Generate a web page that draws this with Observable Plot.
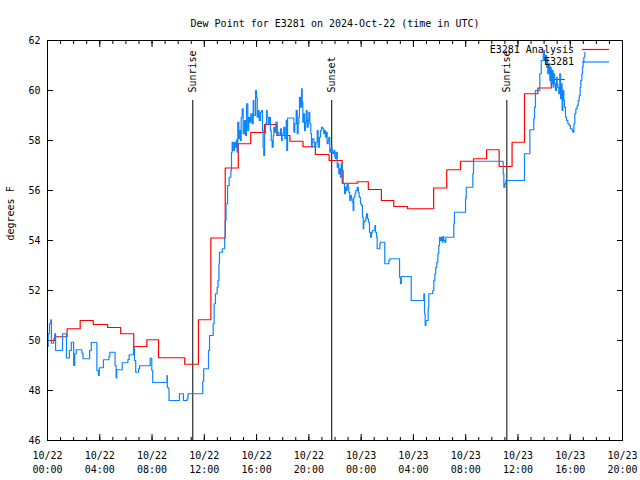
<!DOCTYPE html>
<html><head><meta charset="utf-8">
<script src="https://cdn.jsdelivr.net/npm/d3@7"></script>
<script src="https://cdn.jsdelivr.net/npm/@observablehq/plot@0.6"></script>
<style>body{margin:0;background:#fff;}</style>
</head><body><div id="chart"></div>
<script>
const startTime = "2024-10-22T00:00:00Z";
const endTime = "2024-10-23T20:00:00Z";
const titleText = "Dew Point for E3281 on 2024-Oct-22 (time in UTC)";
const yLabel = "degrees F";
const yDomain = [46, 62];
const yTicks = [46, 48, 50, 52, 54, 56, 58, 60, 62];
const seriesNames = ["E3281 Analysis", "E3281"];
const seriesColors = ["#ff0000", "#0a84ff"];

// Analysis (hours after start, value held until next hour entry)
const analysisHours = [0, 0.55, 1.5, 2.5, 3.5, 4.6, 5.6, 6.6, 7.6, 8.5, 9.5, 10.5, 11.55, 12.5, 13.6, 14.6, 15.55, 16.6, 17.55, 18.55, 19.55, 20.5, 21.55, 22.55, 23.7, 24.55, 25.55, 26.5, 27.55, 28.55, 29.55, 30.55, 31.6, 32.6, 33.6, 34.56, 35.55, 36.5, 37.52, 38.55, 39.55];
const analysisValues = [50.0, 50.15, 50.47, 50.8, 50.64, 50.52, 50.27, 49.76, 50.03, 49.31, 49.31, 49.05, 50.83, 54.1, 56.9, 57.87, 58.32, 58.64, 58.2, 57.97, 57.75, 57.44, 57.2, 56.29, 56.35, 56.04, 55.6, 55.36, 55.27, 55.27, 56.1, 56.83, 57.17, 57.27, 57.63, 56.96, 57.93, 59.87, 60.1, 60.44, 60.44];

// Observations
const obsHours = [0.00,0.05,0.15,0.25,0.30,0.48,0.55,0.62,1.15,1.45,1.68,1.82,2.0,2.08,2.2,2.63,2.72,3.22,3.35,3.78,3.9,3.96,4.28,4.7,4.77,5.17,5.25,5.3,5.72,6.15,6.25,6.58,6.66,6.75,6.97,7.05,7.86,7.98,8.05,9.14,9.17,9.22,9.3,10.1,10.4,10.68,10.75,11.88,11.95,12.32,12.4,12.68,12.75,12.85,12.98,13.05,13.12,13.16,13.38,13.56,13.6,13.66,13.78,13.9,14.03,
14.08,14.13,14.21,14.31,14.39,14.46,14.51,14.56,14.64,14.72,14.77,14.82,14.9,14.97,15.07,15.15,15.23,15.33,15.4,15.48,15.56,15.66,15.74,15.79,15.92,15.99,16.05,16.12,16.2,16.3,16.38,16.45,16.5,16.55,16.61,16.68,16.76,16.81,16.89,16.96,17.06,17.12,17.19,17.27,17.32,17.39,17.47,17.58,17.62,17.7,
17.83,17.91,17.96,18.08,18.16,18.27,18.31,18.37,18.85,18.92,19.03,19.11,19.18,19.23,19.28,19.36,19.44,19.49,19.54,19.61,19.67,19.74,19.8,19.87,19.95,20.0,20.07,20.15,20.2,20.26,20.38,20.45,20.53,20.64,20.71,20.81,20.89,20.97,21.07,21.14,21.22,21.27,21.33,21.4,21.48,21.53,21.6,21.68,21.73,21.78,21.84,21.91,21.99,22.04,22.09,22.17,22.24,22.29,22.37,22.42,22.47,22.55,22.63,
22.73,22.8,22.88,22.93,23.01,23.06,23.13,23.19,23.26,23.32,23.39,23.44,23.52,23.59,23.7,23.78,23.85,23.95,24.03,24.1,24.16,24.2,24.28,24.36,24.41,24.49,24.56,24.64,24.72,24.79,24.87,25.05,25.1,25.18,25.23,25.43,25.48,25.81,26.12,26.2,26.94,27.01,27.07,27.83,28.8,28.85,28.9,28.95,29.13,29.18,29.48,29.56,29.64,29.71,29.79,29.87,29.94,30.0,30.07,30.15,30.2,30.25,30.33,30.4,30.48,31.09,31.14,
31.99,32.04,32.55,32.6,34.87,34.92,35.0,35.07,36.5,36.91,37.21,37.27,37.34,37.67,37.78,37.93,
37.98,38.03,38.11,38.19,38.24,38.28,38.36,38.44,38.49,38.54,38.61,38.69,38.74,38.8,38.87,38.95,39.0,39.05,39.13,39.2,39.26,39.31,39.38,39.43,39.51,39.56,39.64,39.72,39.82,39.92,40.02,40.15,40.2,40.28,40.35,40.43,40.53,40.61,40.69,40.76,40.81,40.89,40.94,40.99,41.04,41.12];
const obsValues = [49.76,50.27,50.67,50.83,49.89,50.07,50.27,49.6,50.27,49.3,49.6,49.93,49.0,49.47,49.63,49.49,49.27,49.6,49.92,48.8,48.6,48.91,49.23,49.36,49.53,49.0,48.5,48.83,49.11,49.24,49.43,49.73,49.2,48.73,48.87,48.99,49.29,48.8,48.32,48.6,48.13,48.1,47.6,47.87,47.6,47.67,47.87,48.37,48.87,49.6,50.2,50.67,51.47,51.87,52.13,52.4,53.07,53.53,53.67,54.13,54.8,55.47,56.2,56.53,56.8,
57.53,57.93,57.6,57.93,57.73,58.03,57.53,58.73,58.07,58.4,58.0,58.93,59.27,58.27,58.8,58.2,59.47,58.4,58.93,58.73,59.07,58.67,59.6,59.0,60.0,59.73,58.93,59.2,58.8,59.13,59.2,58.4,57.73,57.4,58.27,58.67,59.2,58.93,58.67,58.93,58.4,58.0,57.73,58.2,58.53,58.33,58.73,58.27,58.33,58.2,
58.47,58.0,58.27,58.53,58.07,58.8,57.6,58.9,58.33,58.67,59.2,58.27,58.67,58.93,59.73,59.33,60.07,59.53,58.73,59.07,58.4,58.73,59.2,58.53,58.8,59.13,58.67,58.27,57.73,58.07,57.93,57.73,57.93,58.4,57.73,58.13,58.4,58.53,58.47,58.27,58.4,58.13,58.33,57.87,58.0,58.13,57.53,57.67,57.73,57.53,57.47,57.6,57.33,57.27,57.53,56.93,57.07,56.67,56.87,56.53,57.07,56.8,56.27,
55.87,56.13,56.0,56.27,56.13,55.93,55.6,55.8,55.67,55.53,55.2,55.73,55.87,56.0,56.13,55.93,55.73,55.47,55.4,54.93,54.47,54.73,54.8,54.93,55.07,54.87,54.73,54.33,54.13,54.33,54.4,54.6,54.33,54.13,53.67,53.87,53.93,53.07,53.2,53.27,52.53,52.27,52.56,51.6,51.87,51.07,50.6,50.8,51.33,51.87,52.0,52.4,52.67,52.93,53.13,53.47,53.8,54.13,54.0,54.13,53.93,54.16,54.0,53.93,54.13,54.67,55.13,
55.67,56.13,56.67,57.17,56.67,56.13,56.27,56.4,57.47,58.43,58.87,59.33,60.0,60.67,61.2,61.47,
61.6,61.2,61.4,60.93,61.27,60.67,61.07,60.4,60.93,60.27,60.8,60.13,60.67,60.27,60.0,60.53,60.27,60.13,59.87,60.67,59.67,60.27,59.2,60.0,59.6,59.33,58.93,58.8,58.67,58.6,58.47,58.4,58.33,58.67,59.07,59.27,59.4,59.6,59.8,60.13,60.4,60.67,60.93,61.13,61.33,61.53];

const eventNames = ["Sunrise", "Sunset", "Sunrise"];
const eventTimes = ["2024-10-22T11:07:00Z", "2024-10-22T21:45:00Z", "2024-10-23T11:09:00Z"];

const t0 = new Date(startTime), t1 = new Date(endTime);
const toDate = h => new Date(+t0 + h * 3600e3);
const analysis = analysisHours.map((h, i) => ({time: toDate(h), value: analysisValues[i]}));
const obs = obsHours.map((h, i) => ({time: toDate(h), value: obsValues[i]}));
const events = eventNames.map((n, i) => ({name: n, time: new Date(eventTimes[i])}));
const eventTop = yDomain[0] + 0.85 * (yDomain[1] - yDomain[0]);

const majorTicks = d3.utcHour.every(4).range(t0, new Date(+t1 + 1));
const minorTicks = d3.utcHour.range(t0, new Date(+t1 + 1));
const fmt = d => d3.utcFormat("%m/%d")(d) + "\n" + d3.utcFormat("%H:%M")(d);

const chart = Plot.plot({
  width: 640, height: 480,
  marginLeft: 47, marginRight: 18, marginTop: 40, marginBottom: 40,
  style: {fontFamily: "'DejaVu Sans Mono', monospace", fontSize: "10px", background: "white", color: "black"},
  x: {type: "utc", domain: [t0, t1]},
  y: {domain: yDomain},
  marks: [
    Plot.axisX({ticks: minorTicks, anchor: "bottom", tickSize: -3, fill: "none", label: null}),
    Plot.axisX({ticks: minorTicks, anchor: "top", tickSize: -3, fill: "none", label: null}),
    Plot.axisX({ticks: majorTicks, anchor: "bottom", tickSize: -6, fill: "none", label: null}),
    Plot.axisX({ticks: majorTicks, anchor: "top", tickSize: -6, fill: "none", label: null}),
    Plot.axisX({ticks: majorTicks, anchor: "bottom", tickSize: 0, tickPadding: 9, tickFormat: fmt, lineHeight: 1.4, label: null}),
    Plot.axisY({ticks: yTicks, anchor: "left", tickSize: -6, fill: "none", label: null}),
    Plot.axisY({ticks: yTicks, anchor: "right", tickSize: -6, fill: "none", label: null}),
    Plot.axisY({ticks: yTicks, anchor: "left", tickSize: 0, tickPadding: 7, label: null}),
    Plot.ruleX(events, {x: "time", y1: yDomain[0], y2: eventTop, stroke: "black"}),
    Plot.text(events, {x: "time", y: eventTop, text: "name", rotate: -90, textAnchor: "start", dy: -8, fill: "black"}),
    Plot.line(analysis, {x: "time", y: "value", curve: "step-after", stroke: seriesColors[0], strokeWidth: 1.2}),
    Plot.line(obs, {x: "time", y: "value", curve: "step-after", stroke: seriesColors[1], strokeWidth: 1.2}),
    Plot.frame({stroke: "black"}),
    Plot.text([titleText], {frameAnchor: "top", dy: -21, fill: "black"}),
    Plot.text([yLabel], {frameAnchor: "left", dx: -37, rotate: -90, fill: "black"})
  ]
});

// Legend (top-right inside the frame)
const svg = d3.select(chart);
const lg = svg.append("g").attr("font-family", "'DejaVu Sans Mono', monospace").attr("font-size", 10);
seriesNames.forEach((name, i) => {
  const y = 49.5 + i * 12.5;
  lg.append("text").attr("x", 574).attr("y", y).attr("dy", "0.32em").attr("text-anchor", "end").attr("fill", "black").text(name);
  lg.append("line").attr("x1", 582).attr("x2", 609).attr("y1", y).attr("y2", y).attr("stroke", seriesColors[i]).attr("stroke-width", 1.2);
});

document.getElementById("chart").appendChild(chart);
</script>
</body></html>
